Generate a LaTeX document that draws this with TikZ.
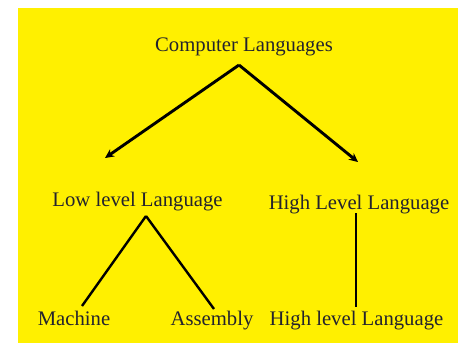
\documentclass[tikz,border=0pt]{standalone}
\usepackage{fontspec}
\setmainfont{Liberation Serif}
\usetikzlibrary{calc,arrows.meta}
\definecolor{bgyellow}{RGB}{255,240,0}
\definecolor{txt}{RGB}{35,35,45}
\begin{document}
\begin{tikzpicture}[x=1pt,y=-1pt,
  lbl/.style={anchor=base,inner sep=0pt,text=txt,font=\fontsize{20.7}{24}\selectfont},
  arr/.style={line width=2.9pt,-{Stealth[length=9pt,width=8.5pt]}},
  lnk/.style={line width=2.4pt}]
\useasboundingbox[fill=white] (0,0) rectangle (466,343);
\fill[bgyellow] (18,8) rectangle (458,343);
\node[lbl] (cl) at (244,51.7) {Computer Languages};
\node[lbl] (ll) at (137.5,206.7) {Low level Language};
\node[lbl] (hl) at (359,209.3) {High Level Language};
\node[lbl] (ma) at (74,325) {Machine};
\node[lbl] (as) at (212,325) {Assembly};
\node[lbl] (hl2) at (356.5,325) {High level Language};
\coordinate (apex) at ($(cl.base)+(-5,13.3)$);
\draw[arr] (apex) -- ($(ll.base)+(-32.5,-48.7)$);
\draw[arr] (apex) -- ($(hl.base)+(-1,-47.3)$);
\coordinate (llapex) at ($(ll.base)+(8.5,9.3)$);
\draw[lnk] (llapex) -- ($(ma.base)+(8,-19)$);
\draw[lnk] (llapex) -- ($(as.base)+(2,-16)$);
\draw[lnk] ($(hl.base)+(-3,3.7)$) -- ($(hl2.base)+(-0.5,-18)$);
\end{tikzpicture}
\end{document}
